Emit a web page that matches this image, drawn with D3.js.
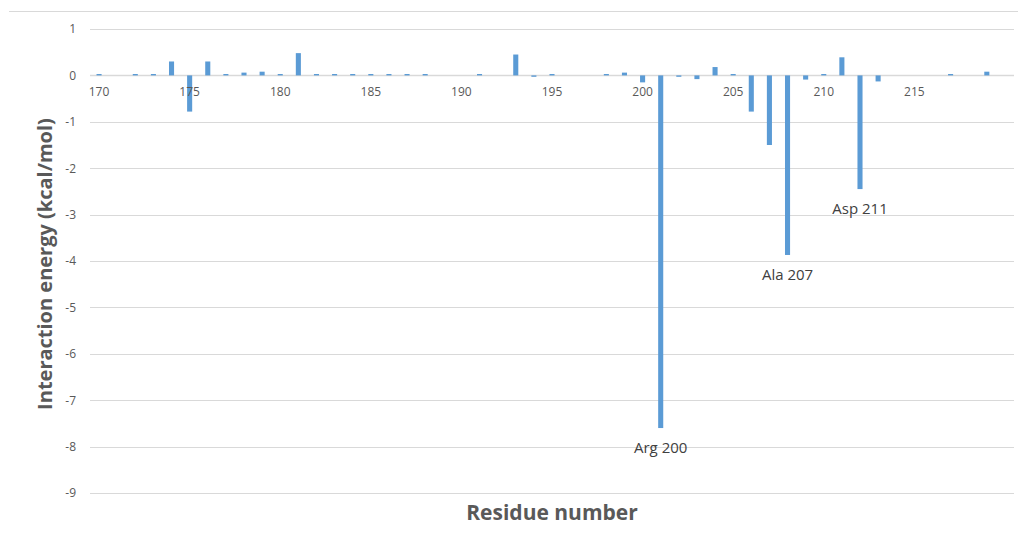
<!DOCTYPE html>
<html>
<head>
<meta charset="utf-8">
<script src="https://cdn.jsdelivr.net/npm/d3@7"></script>
<style>
  html, body { margin: 0; padding: 0; background: #fff; }
  svg { display: block; }
</style>
</head>
<body>
<svg id="chart" width="1018" height="541"></svg>
<script>
// Residue numbers along the x axis (one category per residue)
const residues = d3.range(170, 221);

// Interaction energy per residue (kcal/mol); null = no bar
const energies = [
  0.03, null, 0.03, 0.03, 0.30, -0.78, 0.30, 0.03, 0.06, 0.08,   // 170-179
  0.03, 0.48, 0.03, 0.03, 0.03, 0.03, 0.03, 0.03, 0.03, null,    // 180-189
  null, 0.03, null, 0.45, -0.03, 0.03, null, null, 0.03, 0.06,   // 190-199
  -0.15, -7.60, -0.03, -0.08, 0.18, 0.03, -0.78, -1.50, -3.87, -0.09, // 200-209
  0.03, 0.39, -2.45, -0.13, null, null, null, 0.03, null, 0.08,  // 210-219
  null                                                          // 220
];

// Residue labels shown next to the strongest contributions
const labelResidues = [201, 208, 212];
const labelTexts = ["Arg 200", "Ala 207", "Asp 211"];

const yTicks = [1, 0, -1, -2, -3, -4, -5, -6, -7, -8, -9];
const xTickLabels = [170, 175, 180, 185, 190, 195, 200, 205, 210, 215];

const svg = d3.select("#chart");
const W = 1018, H = 541;
const plot = { left: 90, right: 1014, top: 29, bottom: 493 };

const font = "'Open Sans', 'Segoe UI', sans-serif";
const textGray = "#595959";
const barColor = "#5b9bd5";

// outer frame line along the top
svg.append("line")
  .attr("x1", 9).attr("x2", W).attr("y1", 11.5).attr("y2", 11.5)
  .attr("stroke", "#d9d9d9").attr("stroke-width", 1);

const x = d3.scaleBand()
  .domain(residues)
  .range([plot.left, plot.right])
  .paddingInner(0.72)
  .paddingOuter(0.36);

const y = d3.scaleLinear()
  .domain([-9, 1])
  .range([plot.bottom, plot.top]);

// horizontal gridlines
svg.append("g")
  .selectAll("line")
  .data(yTicks)
  .join("line")
  .attr("x1", plot.left).attr("x2", plot.right)
  .attr("y1", d => Math.round(y(d)) + 0.5)
  .attr("y2", d => Math.round(y(d)) + 0.5)
  .attr("stroke", "#d9d9d9")
  .attr("stroke-width", d => d === 0 ? 1.5 : 1.2);

// y axis labels (plain hyphen for negatives)
const yAxis = d3.axisLeft(y).tickValues(yTicks).tickSize(0).tickPadding(14)
  .tickFormat(d => String(d));
svg.append("g")
  .attr("transform", `translate(${plot.left},0)`)
  .call(yAxis)
  .call(g => g.select(".domain").remove())
  .call(g => g.selectAll("text")
    .attr("fill", textGray)
    .style("font-family", font)
    .style("font-size", "12px"));

// bars
const data = residues.map((r, i) => ({ r, v: energies[i] })).filter(d => d.v !== null);
svg.append("g")
  .selectAll("rect")
  .data(data)
  .join("rect")
  .attr("x", d => x(d.r))
  .attr("width", x.bandwidth())
  .attr("y", d => Math.min(y(d.v), y(0)))
  .attr("height", d => Math.abs(y(d.v) - y(0)))
  .attr("fill", barColor);

// x axis labels sit just under the zero line
const xAxis = d3.axisBottom(x).tickValues(xTickLabels).tickSize(0).tickPadding(12);
svg.append("g")
  .attr("transform", `translate(0,${y(0)})`)
  .call(xAxis)
  .call(g => g.select(".domain").remove())
  .call(g => g.selectAll("text")
    .attr("fill", textGray)
    .style("font-family", font)
    .style("font-size", "12px"));

// residue annotations under the deepest bars
const labels = labelResidues.map((r, i) => ({ r, t: labelTexts[i], v: energies[residues.indexOf(r)] }));
svg.append("g")
  .selectAll("text")
  .data(labels)
  .join("text")
  .attr("x", d => x(d.r) + x.bandwidth() / 2)
  .attr("y", d => y(d.v) + 25)
  .attr("text-anchor", "middle")
  .attr("fill", "#404040")
  .style("font-family", font)
  .style("font-size", "15px")
  .text(d => d.t);

// axis titles
svg.append("text")
  .attr("x", 552)
  .attr("y", 520)
  .attr("text-anchor", "middle")
  .attr("fill", textGray)
  .style("font-family", font)
  .style("font-size", "21px")
  .style("font-weight", "bold")
  .text("Residue number");

svg.append("text")
  .attr("transform", `translate(52,264) rotate(-90)`)
  .attr("text-anchor", "middle")
  .attr("fill", textGray)
  .style("font-family", font)
  .style("font-size", "20px")
  .style("font-weight", "bold")
  .text("Interaction energy (kcal/mol)");
</script>
</body>
</html>
